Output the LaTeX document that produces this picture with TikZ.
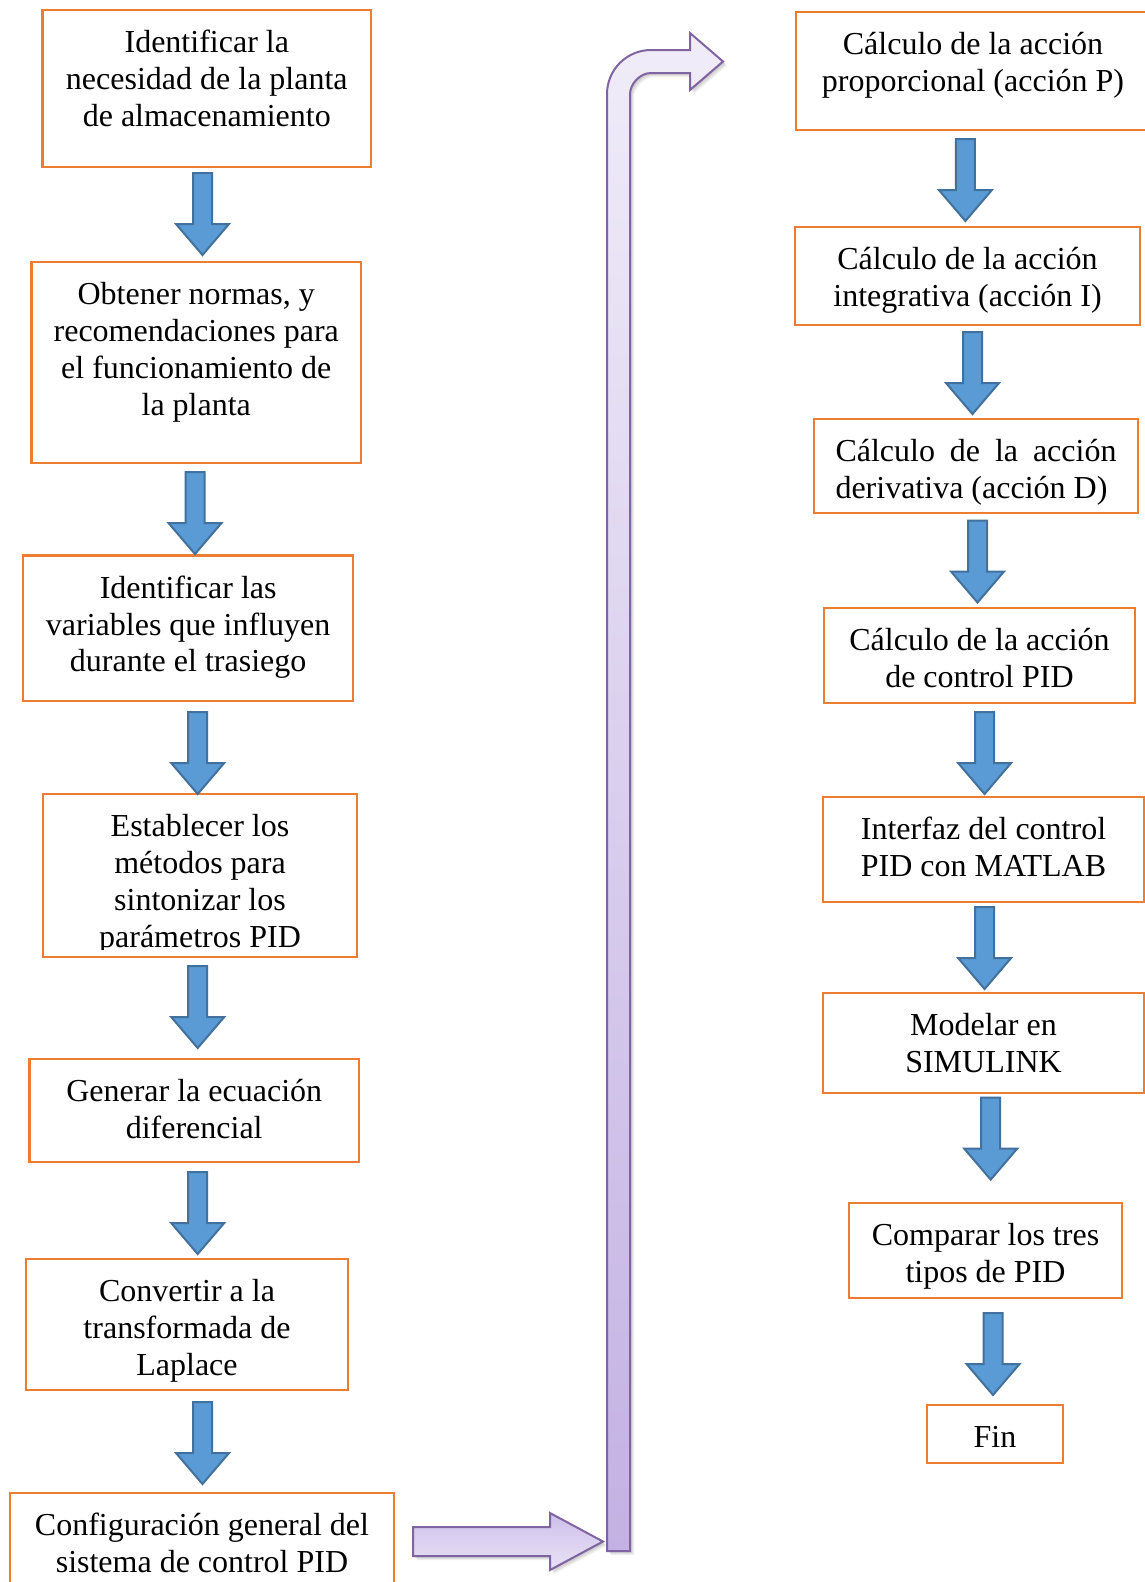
\documentclass[tikz,border=0pt]{standalone}
\usepackage{fontspec}
\setmainfont{Liberation Serif}
\usetikzlibrary{fit}
\definecolor{boxorange}{HTML}{ED7D31}
\definecolor{arrowblue}{HTML}{5B9BD5}
\definecolor{arrowedge}{HTML}{41719C}
\definecolor{purpleedge}{HTML}{8064A2}
\definecolor{lilactop}{HTML}{F0ECF8}
\definecolor{lilacbot}{HTML}{C3B1E3}
\definecolor{lilacdark}{HTML}{CDBFEA}
\definecolor{lilaclight}{HTML}{E9E3F6}
\begin{document}
\begin{tikzpicture}[x=1pt,y=-1pt]
\tikzset{
  stepbox/.style={draw=boxorange, line width=2.4pt, inner sep=0pt},
  steptext/.style={anchor=north, inner sep=0pt, font=\fontsize{32pt}{36.8pt}\selectfont},
  bluearrow/.style={fill=arrowblue, draw=arrowedge, line width=2pt, line join=miter},
  dnarrow/.pic={\path[bluearrow] (-9.5,0) -- (9.5,0) -- (9.5,51) -- (26.5,51) -- (0,82) -- (-26.5,51) -- (-9.5,51) -- cycle;},
  bigarrow/.style={draw=purpleedge, line width=2pt, line join=miter},
}
\useasboundingbox (0,0) rectangle (1145,1582);
\fill[white] (0,0) rectangle (1145,1582);
\clip (0,0) rectangle (1145,1582);

% ---- left column of steps ----
\node[stepbox, fit={(42.4,10) (371.2,167)}] (b1) {};
\node[steptext] (t1) at ([yshift=-18pt]b1.north) {\begin{tabular}{@{}c@{}}Identificar la\\necesidad de la planta\\de almacenamiento\end{tabular}};

\node[stepbox, fit={(31.3,262) (361.2,463)}] (b2) {};
\node[steptext] (t2) at ([yshift=-18pt]b2.north) {\begin{tabular}{@{}c@{}}Obtener normas, y\\recomendaciones para\\el funcionamiento de\\la planta\end{tabular}};

\node[stepbox, fit={(23.2,555.5) (353.1,701)}] (b3) {};
\node[steptext] (t3) at ([yshift=-18pt]b3.north) {\begin{tabular}{@{}c@{}}Identificar las\\variables que influyen\\durante el trasiego\end{tabular}};

\node[stepbox, fit={(43,794) (357,957)}] (b4) {};
\begin{scope}
  \clip (43,794) rectangle (357,949);
  \node[steptext] (t4) at ([yshift=-18pt]b4.north) {\begin{tabular}{@{}c@{}}Establecer los\\métodos para\\sintonizar los\\parámetros PID\end{tabular}};
\end{scope}

\node[stepbox, fit={(29.3,1059) (359.1,1162)}] (b5) {};
\node[steptext] (t5) at ([yshift=-18pt]b5.north) {\begin{tabular}{@{}c@{}}Generar la ecuación\\diferencial\end{tabular}};

\node[stepbox, fit={(26,1259) (348,1390)}] (b6) {};
\node[steptext] (t6) at ([yshift=-18pt]b6.north) {\begin{tabular}{@{}c@{}}Convertir a la\\transformada de\\Laplace\end{tabular}};

\node[stepbox, fit={(10,1493) (394,1620)}] (b7) {};
\node[steptext] (t7) at ([yshift=-18pt]b7.north) {\begin{tabular}{@{}c@{}}Configuración general del\\sistema de control PID\end{tabular}};

% ---- right column of steps ----
\node[stepbox, fit={(796,12) (1160,130)}] (r1) {};
\node[steptext] (s1) at ([xshift=-5pt,yshift=-18pt]r1.north) {\begin{tabular}{@{}c@{}}Cálculo de la acción\\proporcional (acción P)\end{tabular}};

\node[stepbox, fit={(795,227) (1140,325)}] (r2) {};
\node[steptext] (s2) at ([yshift=-18pt]r2.north) {\begin{tabular}{@{}c@{}}Cálculo de la acción\\integrativa (acción I)\end{tabular}};

\node[stepbox, fit={(814,419) (1138,513)}] (r3) {};
\node[steptext] (s3) at ([yshift=-18pt]r3.north) {\begin{tabular}{@{}l@{}}\makebox[281pt][s]{Cálculo de la acción}\\derivativa (acción D)\end{tabular}};

\node[stepbox, fit={(824,608) (1135,703)}] (r4) {};
\node[steptext] (s4) at ([yshift=-18pt]r4.north) {\begin{tabular}{@{}c@{}}Cálculo de la acción\\de control PID\end{tabular}};

\node[stepbox, fit={(823,797) (1144,902)}] (r5) {};
\node[steptext] (s5) at ([yshift=-18pt]r5.north) {\begin{tabular}{@{}c@{}}Interfaz del control\\PID con MATLAB\end{tabular}};

\node[stepbox, fit={(823,993) (1144,1093)}] (r6) {};
\node[steptext] (s6) at ([yshift=-18pt]r6.north) {\begin{tabular}{@{}c@{}}Modelar en\\SIMULINK\end{tabular}};

\node[stepbox, fit={(849,1203) (1122,1298)}] (r7) {};
\node[steptext] (s7) at ([yshift=-18pt]r7.north) {\begin{tabular}{@{}c@{}}Comparar los tres\\tipos de PID\end{tabular}};

\node[stepbox, fit={(927,1405) (1063,1463)}] (r8) {};
\node[steptext] (s8) at ([yshift=-18pt]r8.north) {\begin{tabular}{@{}c@{}}Fin\end{tabular}};

% ---- block arrows between steps ----
\pic at (202.5,173) {dnarrow};
\pic at (195,472) {dnarrow};
\pic at (197.7,712) {dnarrow};
\pic at (197.7,966) {dnarrow};
\pic at (197.7,1172) {dnarrow};
\pic at (202.5,1402) {dnarrow};

\pic at (965.4,139) {dnarrow};
\pic at (972.5,332) {dnarrow};
\pic at (977.5,520.5) {dnarrow};
\pic at (984.6,712) {dnarrow};
\pic at (984.6,907) {dnarrow};
\pic at (990.7,1097.6) {dnarrow};
\pic at (993,1313) {dnarrow};

% ---- column change: straight arrow and bent arrow ----
\def\straightpath{(413,1527) -- (550,1527) -- (550,1513) -- (603,1541.5) -- (550,1570) -- (550,1556) -- (413,1556) -- cycle}
\def\bentpath{(607,1551) -- (607,94) .. controls (607,69.7) and (626.7,50) .. (651,50) -- (690,50) -- (690,33) -- (723,61.5) -- (690,90) -- (690,73) -- (651,73) .. controls (639.4,73) and (630,84.6) .. (630,94) -- (630,1551) -- cycle}

\foreach \s in {1,...,4} {
  \fill[black, opacity=0.06, shift={(\s,\s)}] \straightpath;
  \fill[black, opacity=0.06, shift={(\s,\s)}] \bentpath;
}
\shadedraw[bigarrow, top color=lilacdark, bottom color=lilaclight] \straightpath;
\shadedraw[bigarrow, top color=lilactop, bottom color=lilacbot] \bentpath;
\end{tikzpicture}
\end{document}
